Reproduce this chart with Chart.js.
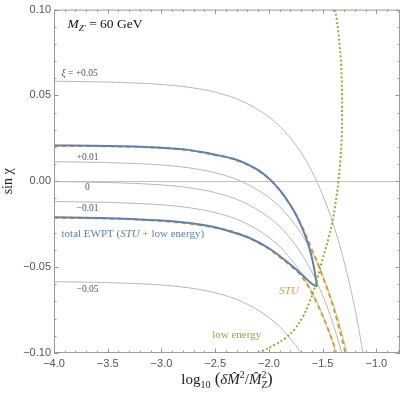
<!DOCTYPE html>
<html>
<head>
<meta charset="utf-8">
<script src="https://cdn.jsdelivr.net/npm/chart.js@4.4.1/dist/chart.umd.min.js"></script>
<style>
  html, body { margin: 0; padding: 0; background: #fff; }
</style>
</head>
<body>
<canvas id="chart" width="403" height="394"></canvas>
<script>
// contours of constant xi, all sampled on the same x grid
const xiX   = [-4.0, -3.5, -3.0, -2.75, -2.5, -2.25, -2.0, -1.9, -1.8, -1.7, -1.6, -1.5, -1.4, -1.3, -1.2, -1.1];
const xiP05 = [0.0583, 0.0578, 0.0564, 0.0548, 0.0519, 0.0467, 0.0375, 0.0321, 0.0252, 0.0166, 0.0058, -0.0079, -0.0251, -0.0468, -0.0740, -0.1083];
const xiP01 = [0.0114, 0.0109, 0.0095, 0.0079, 0.0050, -0.0002, -0.0094, -0.0148, -0.0217, -0.0303, -0.0411, -0.0548, -0.0720, -0.0937, -0.1209, -0.1552];
const xi0   = [-0.0002, -0.0007, -0.0021, -0.0037, -0.0066, -0.0118, -0.0210, -0.0264, -0.0333, -0.0419, -0.0528, -0.0664, -0.0836, -0.1053, -0.1325, -0.1668];
const xiM01 = [-0.0118, -0.0123, -0.0137, -0.0153, -0.0182, -0.0234, -0.0326, -0.0380, -0.0449, -0.0535, -0.0644, -0.0780, -0.0952, -0.1169, -0.1441, -0.1784];
const xiM05 = [-0.0585, -0.0590, -0.0604, -0.0620, -0.0649, -0.0701, -0.0793, -0.0847, -0.0916, -0.1002, -0.1111, -0.1247, -0.1419, -0.1636, -0.1908, -0.2251];

// total EWPT contour (upper and lower branch, meeting at the tip)
const ewptUpX = [-4.0, -3.5, -3.0, -2.75, -2.64, -2.5, -2.33, -2.18, -2.1, -2.0, -1.9, -1.8, -1.75, -1.7, -1.66, -1.63, -1.6, -1.58, -1.566, -1.558, -1.554];
const ewptUpY = [0.0209, 0.0206, 0.0196, 0.0183, 0.0172, 0.0155, 0.0131, 0.0093, 0.0065, 0.0017, -0.0050, -0.0138, -0.0192, -0.0258, -0.0320, -0.0375, -0.0445, -0.0505, -0.0555, -0.0590, -0.0614];
const ewptLoX = [-4.0, -3.5, -3.0, -2.64, -2.5, -2.36, -2.18, -2.0, -1.9, -1.8, -1.72, -1.66, -1.61, -1.58, -1.554];
const ewptLoY = [-0.0210, -0.0215, -0.0229, -0.0252, -0.0268, -0.0292, -0.0330, -0.0390, -0.0435, -0.0485, -0.0528, -0.0563, -0.0592, -0.0605, -0.0614];

// STU only
const stuUpX = [-4.0, -3.5, -3.0, -2.75, -2.5, -2.33, -2.18, -2.1, -2.0, -1.9, -1.8, -1.7, -1.65, -1.6, -1.55, -1.5, -1.45, -1.4, -1.35, -1.3, -1.25];
const stuUpY = [0.0207, 0.0204, 0.0194, 0.0181, 0.0153, 0.0129, 0.0091, 0.0063, 0.0015, -0.0052, -0.0140, -0.0252, -0.0322, -0.0400, -0.0470, -0.0555, -0.0640, -0.0735, -0.0845, -0.0968, -0.1105];
const stuLoX = [-4.0, -3.5, -3.0, -2.5, -2.25, -2.0, -1.9, -1.8, -1.7, -1.6, -1.5, -1.45, -1.4, -1.35, -1.3];
const stuLoY = [-0.0212, -0.0217, -0.0231, -0.0270, -0.0312, -0.0394, -0.0440, -0.0492, -0.0550, -0.0650, -0.0783, -0.0860, -0.0945, -0.1060, -0.1190];

// low energy only
const lowEX = [-1.385, -1.368, -1.343, -1.328, -1.320, -1.319, -1.322, -1.335, -1.353, -1.378, -1.405, -1.440, -1.508, -1.565, -1.620, -1.685, -1.760, -1.840, -1.940, -2.050, -2.130];
const lowEY = [0.100, 0.094, 0.080, 0.068, 0.052, 0.040, 0.027, 0.012, 0.000, -0.012, -0.022, -0.032, -0.047, -0.060, -0.070, -0.079, -0.086, -0.091, -0.095, -0.0985, -0.101];

const xTicks = [-4.0, -3.5, -3.0, -2.5, -2.0, -1.5, -1.0];
const yTicks = [-0.10, -0.05, 0.00, 0.05, 0.10];

const BLUE = '#5E81B5', ORANGE = '#E19C24', GREEN = '#8FB032', GRAY = '#b8b8b8';
const SERIF = '"Liberation Serif", "DejaVu Serif", serif';

function pts(xs, ys) {
    return xs.map((x, i) => ({ x: x, y: ys[i] }));
}

function curve(xs, ys, color, width, dash, smooth) {
    return {
        data: pts(xs, ys),
        showLine: true,
        borderColor: color,
        borderWidth: width,
        borderDash: dash || [],
        pointRadius: 0,
        fill: false,
        tension: smooth === 'bezier' ? 0.4 : 0,
        cubicInterpolationMode: smooth === 'bezier' ? 'default' : 'monotone'
    };
}

function fmt(v, d) {
    return (v < 0 ? '\u2212' : '') + Math.abs(v).toFixed(d);
}

// draw a row of text pieces: [text, font, dy, advance]
function drawParts(ctx, parts, x, y, align) {
    let w = 0;
    parts.forEach(p => {
        ctx.font = p[1];
        w += p[3] !== undefined ? p[3] : ctx.measureText(p[0]).width;
    });
    let cx = align === 'center' ? x - w / 2 : x;
    parts.forEach(p => {
        ctx.font = p[1];
        ctx.fillText(p[0], cx, y + (p[2] || 0));
        cx += p[3] !== undefined ? p[3] : ctx.measureText(p[0]).width;
    });
}

const decor = {
    id: 'decor',
    beforeDatasetsDraw(chart) {
        const { ctx, chartArea: a, scales: { y } } = chart;
        ctx.save();
        ctx.strokeStyle = '#c4c4c4';
        ctx.lineWidth = 1;
        const y0 = Math.round(y.getPixelForValue(0)) + 0.5;
        ctx.beginPath();
        ctx.moveTo(a.left, y0);
        ctx.lineTo(a.right, y0);
        ctx.stroke();
        ctx.restore();
    },
    afterDatasetsDraw(chart) {
        const { ctx, chartArea: a, scales: { x, y } } = chart;
        ctx.save();
        ctx.strokeStyle = '#9a9a9a';
        ctx.lineWidth = 1;
        ctx.strokeRect(a.left + 0.5, a.top + 0.5, a.width - 1, a.height - 1);

        // inward ticks on all four sides
        ctx.beginPath();
        for (let i = -40; i <= -8; i++) {
            const px = Math.round(x.getPixelForValue(i / 10)) + 0.5;
            const len = i % 5 === 0 ? 4.5 : 2.5;
            ctx.moveTo(px, a.bottom); ctx.lineTo(px, a.bottom - len);
            ctx.moveTo(px, a.top); ctx.lineTo(px, a.top + len);
        }
        for (let i = -10; i <= 10; i++) {
            const py = Math.round(y.getPixelForValue(i / 100)) + 0.5;
            const len = i % 5 === 0 ? 4.5 : 2.5;
            ctx.moveTo(a.left, py); ctx.lineTo(a.left + len, py);
            ctx.moveTo(a.right, py); ctx.lineTo(a.right - len, py);
        }
        ctx.stroke();

        // contour labels
        ctx.textBaseline = 'middle';
        ctx.fillStyle = '#555';
        const small = '9.5px ' + SERIF, smallI = 'italic 9.5px ' + SERIF;
        drawParts(ctx, [['\u03BE', smallI], [' = +0.05', small]], x.getPixelForValue(-3.93), y.getPixelForValue(0.0625), 'left');
        drawParts(ctx, [['+0.01', small]], x.getPixelForValue(-3.79), y.getPixelForValue(0.0141), 'left');
        drawParts(ctx, [['0', small]], x.getPixelForValue(-3.69), y.getPixelForValue(-0.0037), 'center');
        drawParts(ctx, [['\u22120.01', small]], x.getPixelForValue(-3.79), y.getPixelForValue(-0.0158), 'left');
        drawParts(ctx, [['\u22120.05', small]], x.getPixelForValue(-3.79), y.getPixelForValue(-0.0631), 'left');

        const mid = '11px ' + SERIF, midI = 'italic 11px ' + SERIF;
        ctx.fillStyle = BLUE;
        drawParts(ctx, [['total EWPT (', mid], ['STU', midI], [' + low energy)', mid]],
            x.getPixelForValue(-3.93), y.getPixelForValue(-0.0308), 'left');
        ctx.fillStyle = ORANGE;
        drawParts(ctx, [['STU', midI]], x.getPixelForValue(-1.812), y.getPixelForValue(-0.064), 'center');
        ctx.fillStyle = GREEN;
        drawParts(ctx, [['low energy', mid]], x.getPixelForValue(-2.30), y.getPixelForValue(-0.0896), 'center');

        // mass label
        ctx.textBaseline = 'alphabetic';
        ctx.fillStyle = '#111';
        drawParts(ctx, [['M', 'italic 13.5px ' + SERIF], ['Z\u2032', 'italic 9px ' + SERIF, 3], [' = 60 GeV', '13.5px ' + SERIF]],
            x.getPixelForValue(-3.874), 28, 'left');

        // x axis title
        ctx.fillStyle = '#222';
        const big = '15px ' + SERIF, bigI = 'italic 15px ' + SERIF, sub = '10px ' + SERIF, subI = 'italic 10px ' + SERIF, par = '17px ' + SERIF;
        drawParts(ctx, [
            ['log', big], ['10', sub, 4], [' (', par], ['\u03B4', bigI], ['M\u0302', bigI], ['2', sub, -6],
            ['/', big], ['M\u0302', bigI], ['2', sub, -6, 0], ['Z', subI, 4], [')', par]
        ], (a.left + a.right) / 2, 384, 'center');
        ctx.restore();
    }
};

const ctx = document.getElementById('chart').getContext('2d');
new Chart(ctx, {
    type: 'scatter',
    data: {
        datasets: [
            curve(lowEX, lowEY, GREEN, 2, [2, 2.2], 'bezier'),
            curve(ewptUpX, ewptUpY, BLUE, 2),
            curve(ewptLoX, ewptLoY, BLUE, 2),
            curve(stuUpX, stuUpY, ORANGE, 2, [4.5, 3.5]),
            curve(stuLoX, stuLoY, ORANGE, 2, [4.5, 3.5]),
            curve(xiX, xiP05, GRAY, 1),
            curve(xiX, xiP01, GRAY, 1),
            curve(xiX, xi0, GRAY, 1),
            curve(xiX, xiM01, GRAY, 1),
            curve(xiX, xiM05, GRAY, 1)
        ]
    },
    options: {
        responsive: false,
        animation: false,
        events: [],
        layout: { padding: { top: 6, right: 3, left: 0, bottom: 0 } },
        plugins: { legend: { display: false }, tooltip: { enabled: false } },
        scales: {
            x: {
                type: 'linear',
                min: -4.0,
                max: -0.78,
                afterBuildTicks: s => { s.ticks = xTicks.map(v => ({ value: v })); },
                afterFit: s => { s.height = 41; },
                grid: { display: false, drawTicks: false },
                border: { display: false },
                ticks: {
                    padding: 4,
                    autoSkip: false,
                    maxRotation: 0,
                    color: '#555',
                    font: { family: '"Liberation Sans", Arial, sans-serif', size: 11 },
                    callback: v => fmt(v, 1)
                }
            },
            y: {
                type: 'linear',
                min: -0.10,
                max: 0.10,
                afterBuildTicks: s => { s.ticks = yTicks.map(v => ({ value: v })); },
                afterFit: s => { s.width = 54; },
                grid: { display: false, drawTicks: false },
                border: { display: false },
                title: {
                    display: true,
                    text: 'sin \u03C7',
                    color: '#222',
                    padding: { top: 0, bottom: 0 },
                    font: { family: SERIF, size: 14 }
                },
                ticks: {
                    padding: 3,
                    color: '#555',
                    font: { family: '"Liberation Sans", Arial, sans-serif', size: 11 },
                    callback: v => fmt(v, 2)
                }
            }
        }
    },
    plugins: [decor]
});
</script>
</body>
</html>
